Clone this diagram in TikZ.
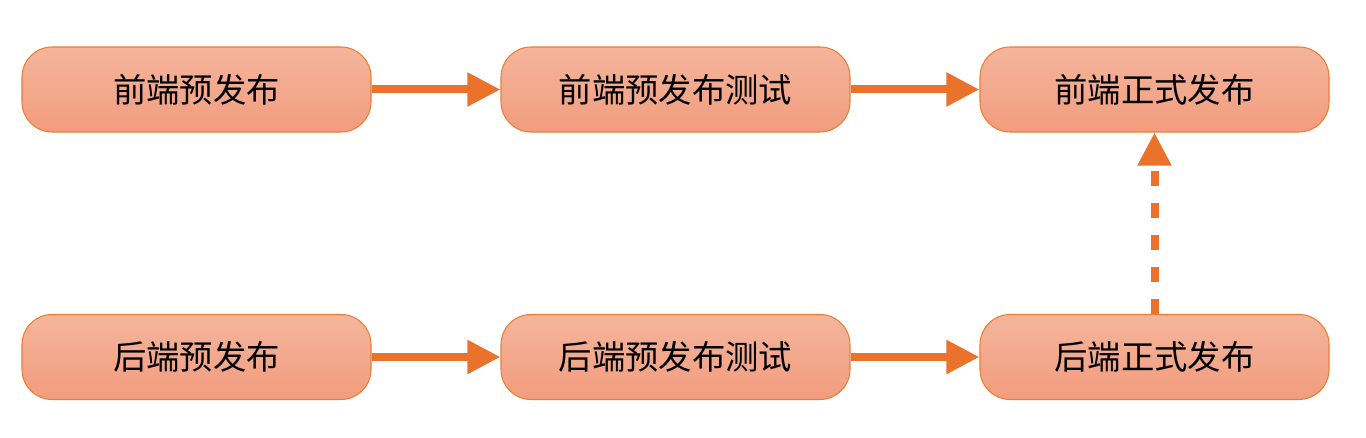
\documentclass[tikz,border=0pt]{standalone}
\usepackage{fontspec}
\newfontfamily\cjk{Noto Sans CJK SC}
\usepackage{tikz}
\usetikzlibrary{arrows.meta}
\definecolor{box_top}{HTML}{F4B59C}
\definecolor{box_bottom}{HTML}{F29C7E}
\definecolor{box_line}{HTML}{ED7D31}
\definecolor{arrow_orange}{HTML}{EB722A}
\tikzstyle{node_step} = [rectangle, rounded corners=0.6cm, draw=box_line, line width=0.6pt, top color=box_top, bottom color=box_bottom, minimum width=6.98cm, minimum height=1.7cm, inner sep=0pt, font=\cjk\fontsize{19}{22}\selectfont]
\tikzstyle{edge_flow} = [draw=arrow_orange, line width=0.16cm, -{Triangle[length=0.66cm,width=0.64cm]}]
\tikzstyle{edge_sync} = [edge_flow, dash pattern=on 0.3cm off 0.34cm]

\begin{document}
\begin{tikzpicture}
			\useasboundingbox (0,0) rectangle (27.32,-8.76);
			\node (FP) at (3.93,-1.79) [node_step] {前端预发布};
			\node (FT) at (13.51,-1.79) [node_step] {前端预发布测试};
			\node (FR) at (23.09,-1.79) [node_step] {前端正式发布};
			\node (BP) at (3.93,-7.14) [node_step] {后端预发布};
			\node (BT) at (13.51,-7.14) [node_step] {后端预发布测试};
			\node (BR) at (23.09,-7.14) [node_step] {后端正式发布};
			\draw[edge_flow] (FP)--(FT);
			\draw[edge_flow] (FT)--(FR);
			\draw[edge_flow] (BP)--(BT);
			\draw[edge_flow] (BT)--(BR);
			\draw[edge_sync] (BR)--(FR);
		\end{tikzpicture}
\end{document}
